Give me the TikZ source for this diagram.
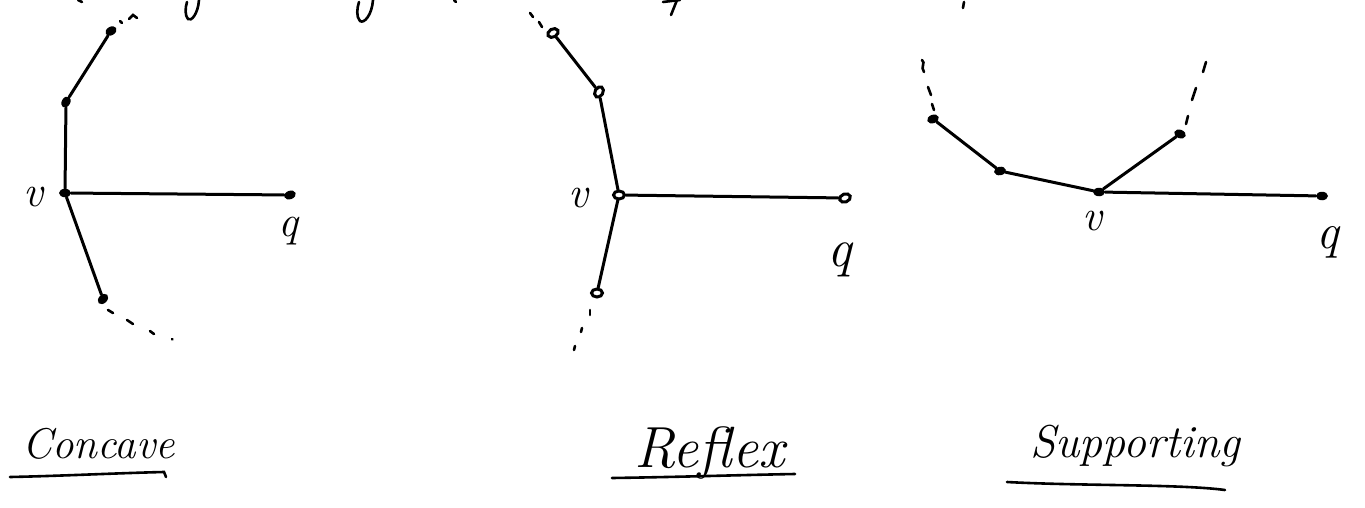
\documentclass[tikz,border=0pt]{standalone}
\usetikzlibrary{shapes.geometric}
\begin{document}
\begin{tikzpicture}[x=1pt,y=-1pt,
  seg/.style={line width=3pt,line cap=round},
  dsh/.style={line width=2.6pt,line cap=round},
  pf/.style={ellipse,fill=black,inner sep=0pt,minimum width=12pt,minimum height=8.5pt},
  po/.style={ellipse,draw=black,line width=3pt,fill=white,inner sep=0pt,minimum width=11pt,minimum height=8pt},
  lab/.style={inner sep=0pt,font=\fontsize{44}{48}\selectfont\itshape},
  ttl/.style={inner sep=0pt,anchor=base west},
  uline/.style={line width=2.6pt,line cap=round}]
\useasboundingbox (0,0) rectangle (1365,508);

% ---------- cut-off strokes at the top ----------
\draw[dsh] (78,0) -- (82,2);
\draw[dsh] (199,0) .. controls (198,14) and (191,22) .. (188,19) .. controls (185,16) and (185,8) .. (187,2);
\draw[dsh] (373,0) .. controls (372,15) and (364,24) .. (360,21) .. controls (356,17) and (357,8) .. (359,2);
\draw[dsh] (454,0) -- (456,2);
\draw[dsh] (663,2) -- (680,0);
\draw[dsh] (677,0) -- (671,15);
\draw[dsh] (964,2) -- (963,8);

% ---------- Concave ----------
\node[pf,rotate=30] (L1) at (111,31) {};
\node[pf,rotate=60] (L2) at (66,102) {};
\node[pf] (L0) at (65,193) {};
\node[pf,rotate=20] (Lq) at (290,195) {};
\node[pf,rotate=45] (L3) at (103,299) {};
\draw[seg] (L1) -- (L2) -- (L0) -- (Lq);
\draw[seg] (L0) -- (L3);
\draw[dsh] (120,21) -- (122,23);
\draw[dsh] (129,19) -- (133,15) -- (137,18);
\draw[dsh] (108,310) -- (113,313);
\draw[dsh] (127,320) -- (133,324);
\draw[dsh] (150,331) -- (154,334);
\draw[dsh] (172,339) -- (172.5,339.5);
\node[lab] (Lv) at (33,197) {v};
\node[lab] (Lql) at (288,231) {q};

% ---------- Reflex ----------
\node[po,rotate=30] (M1) at (553,33) {};
\node[po,rotate=60] (M2) at (599,92) {};
\node[po] (M0) at (619,195) {};
\node[po,rotate=20] (Mq) at (845,198) {};
\node[po] (M3) at (597,293) {};
\draw[seg] (M1) -- (M2) -- (M0) -- (Mq);
\draw[seg] (M0) -- (M3);
\draw[dsh] (530,13) -- (533,17);
\draw[dsh] (539,22) -- (542,27);
\draw[dsh] (590,310) -- (590,315);
\draw[dsh] (582,328) -- (581,332);
\draw[dsh] (575,346) -- (574,350);
\node[lab] (Mv) at (578,198) {v};
\node[lab,font=\fontsize{54}{58}\selectfont\itshape] (Mql) at (840,260) {q};

% ---------- Supporting ----------
\node[pf,rotate=20] (R1) at (933,119) {};
\node[pf,rotate=10] (R2) at (1000,171) {};
\node[pf] (R0) at (1099,192) {};
\node[pf] (Rq) at (1322,196) {};
\node[pf,rotate=-20] (R3) at (1180,134) {};
\draw[seg] (R1) -- (R2) -- (R0) -- (Rq);
\draw[seg] (R0) -- (R3);
\draw[dsh] (922,60) .. controls (926,63) and (920,67) .. (924,72);
\draw[dsh] (928,87) -- (931,95);
\draw[dsh] (932,104) -- (934,110);
\draw[dsh] (1206,62) -- (1203,72);
\draw[dsh] (1196,88) -- (1192,100);
\draw[dsh] (1188,116) -- (1186,124);
\node[lab] (Rv) at (1092,221) {v};
\node[lab,font=\fontsize{50}{54}\selectfont\itshape] (Rql) at (1328,242) {q};

% ---------- titles ----------
\node[ttl,font=\fontsize{43}{47}\selectfont\itshape] (T1) at (22,458) {Concave};
\draw[uline] (10,477) .. controls (60,476) and (120,473) .. (164,472) -- (166,477);
\node[ttl,font=\fontsize{58}{62}\selectfont\itshape] (T2) at (634,467) {Reflex};
\draw[uline] (612,478) .. controls (680,477) and (740,475) .. (795,474);
\node[ttl,font=\fontsize{46}{50}\selectfont\itshape] (T3) at (1030,457) {Supporting};
\draw[uline] (1007,482) .. controls (1080,486) and (1180,484) .. (1225,490);
\end{tikzpicture}
\end{document}
